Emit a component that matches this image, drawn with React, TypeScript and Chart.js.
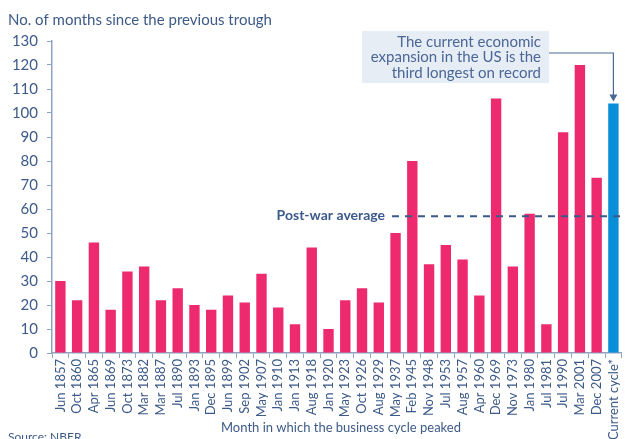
import React, { useEffect, useRef } from "react";
import { Chart, registerables } from "chart.js";

Chart.register(...registerables);

const categories: string[] = [
  "Jun 1857", "Oct 1860", "Apr 1865", "Jun 1869", "Oct 1873", "Mar 1882", "Mar 1887",
  "Jul 1890", "Jan 1893", "Dec 1895", "Jun 1899", "Sep 1902", "May 1907", "Jan 1910",
  "Jan 1913", "Aug 1918", "Jan 1920", "May 1923", "Oct 1926", "Aug 1929", "May 1937",
  "Feb 1945", "Nov 1948", "Jul 1953", "Aug 1957", "Apr 1960", "Dec 1969", "Nov 1973",
  "Jan 1980", "Jul 1981", "Jul 1990", "Mar 2001", "Dec 2007", "Current cycle*",
];
const months: number[] = [
  30, 22, 46, 18, 34, 36, 22, 27, 20, 18, 24, 21, 33, 19, 12, 44, 10, 22, 27, 21, 50,
  80, 37, 45, 39, 24, 106, 36, 58, 12, 92, 120, 73, 104,
];
const postWarAverage = 57;
const yTicks = { min: 0, max: 130, step: 10 };
const titleText = "No. of months since the previous trough";
const xTitleText = "Month in which the business cycle peaked";
const sourceText = "Source: NBER";
const avgLabel = "Post-war average";
const noteLines = ["The current economic", "expansion in the US is the", "third longest on record"];

const PINK = "#ee2a6f";
const BLUE = "#0a8ed8";
const TEXT = "#3d5a88";
const AXIS = "#8ea3c0";
const FONT = "Lato, 'Open Sans', sans-serif";

const overlay = {
  id: "overlay",
  afterDraw(chart: any) {
    const { ctx, chartArea, scales } = chart;
    const y = scales.y;
    ctx.save();
    // title
    ctx.fillStyle = TEXT;
    ctx.font = `15px ${FONT}`;
    ctx.textAlign = "left";
    ctx.textBaseline = "middle";
    ctx.fillText(titleText, 8, 20);
    // x axis title
    ctx.font = `13px ${FONT}`;
    ctx.textAlign = "center";
    ctx.fillText(xTitleText, 341, 428);
    // source
    ctx.font = `12px ${FONT}`;
    ctx.textAlign = "left";
    ctx.fillText(sourceText, 8, 437);
    // average line
    const ay = y.getPixelForValue(postWarAverage);
    ctx.strokeStyle = "#3b5a8c";
    ctx.lineWidth = 2;
    ctx.setLineDash([7, 6]);
    ctx.beginPath();
    ctx.moveTo(392, ay);
    ctx.lineTo(chartArea.right, ay);
    ctx.stroke();
    ctx.setLineDash([]);
    ctx.font = `bold 14px ${FONT}`;
    ctx.textAlign = "right";
    ctx.fillStyle = "#3b5a8c";
    ctx.fillText(avgLabel, 385, ay - 1);
    // note box
    ctx.fillStyle = "#e7edf5";
    ctx.fillRect(362, 31, 187, 52);
    ctx.fillStyle = "#4a6796";
    ctx.font = `15px ${FONT}`;
    ctx.textAlign = "right";
    noteLines.forEach((l, i) => ctx.fillText(l, 541, 42 + i * 15.5));
    // connector
    const x = scales.x.getPixelForValue(categories.length - 1);
    const topBar = y.getPixelForValue(months[months.length - 1]);
    ctx.strokeStyle = "#4a6796";
    ctx.lineWidth = 1.2;
    ctx.beginPath();
    ctx.moveTo(549, 53);
    ctx.lineTo(x, 53);
    ctx.lineTo(x, topBar - 8);
    ctx.stroke();
    ctx.fillStyle = "#4a6796";
    ctx.beginPath();
    ctx.moveTo(x - 4, topBar - 9);
    ctx.lineTo(x + 4, topBar - 9);
    ctx.lineTo(x, topBar - 2);
    ctx.closePath();
    ctx.fill();
    ctx.restore();
  },
};

export default function App() {
  const ref = useRef<HTMLCanvasElement | null>(null);
  useEffect(() => {
    document.body.style.margin = "0";
    const chart = new Chart(ref.current as HTMLCanvasElement, {
      type: "bar",
      data: {
        labels: categories,
        datasets: [
          {
            data: months,
            backgroundColor: months.map((_, i) => (i === months.length - 1 ? BLUE : PINK)),
            barPercentage: 0.62,
            categoryPercentage: 1,
          },
        ],
      },
      options: {
        animation: false,
        responsive: false,
        maintainAspectRatio: false,
        layout: { padding: { top: 41, right: 0, bottom: 0, left: 0 } },
        plugins: { legend: { display: false }, tooltip: { enabled: false }, title: { display: false } },
        scales: {
          x: {
            afterFit: (s: any) => { s.height = 86; },
            border: { color: AXIS, width: 1.5 },
            grid: { drawOnChartArea: false, drawTicks: true, tickLength: 5, color: AXIS, offset: true },
            ticks: {
              color: TEXT,
              font: { family: FONT, size: 13 },
              maxRotation: 90,
              minRotation: 90,
              autoSkip: false,
              padding: 1,
            },
          },
          y: {
            min: yTicks.min,
            max: yTicks.max,
            afterFit: (s: any) => { s.width = 52; },
            border: { color: AXIS, width: 1.5 },
            grid: { drawOnChartArea: false, drawTicks: true, tickLength: 5, color: AXIS },
            ticks: {
              stepSize: yTicks.step,
              color: TEXT,
              font: { family: FONT, size: 15 },
              padding: 9,
            },
          },
        },
      },
      plugins: [overlay],
    });
    return () => chart.destroy();
  }, []);
  return (
    <div style={{ position: "fixed", left: 0, top: 0, width: 630, height: 439 }}>
      <canvas ref={ref} width={630} height={439} style={{ width: 630, height: 439 }} />
    </div>
  );
}
